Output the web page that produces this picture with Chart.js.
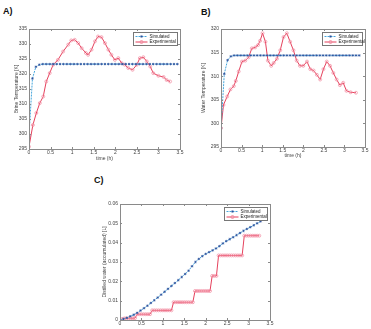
<!DOCTYPE html>
<html>
<head>
<meta charset="utf-8">
<script src="https://cdn.jsdelivr.net/npm/chart.js@4.4.1/dist/chart.umd.min.js"></script>
<style>
  body { margin:0; background:#fff; width:371px; height:329px; overflow:hidden; position:relative; font-family:"Liberation Sans", Arial, sans-serif; }
  canvas { position:absolute; }
  .lbl { position:absolute; font-weight:bold; font-size:9px; color:#111; }
</style>
</head>
<body>
<div class="lbl" style="left:3px;top:6px;">A)</div>
<div class="lbl" style="left:201px;top:7px;">B)</div>
<div class="lbl" style="left:94px;top:175px;">C)</div>
<canvas id="chartA" width="185" height="165" style="left:0;top:0;"></canvas>
<canvas id="chartB" width="186" height="165" style="left:185px;top:0;"></canvas>
<canvas id="chartC" width="200" height="164" style="left:90px;top:165px;"></canvas>
<script>
// ---------- DATA
var simTime = [0,0.08,0.16,0.24,0.32,0.4,0.48,0.56,0.64,0.72,0.8,0.88,0.96,1.04,1.12,1.2,1.28,1.36,1.44,1.52,1.6,1.68,1.76,1.84,1.92,2.0,2.08,2.16,2.24,2.32,2.4,2.48,2.56,2.64,2.72,2.8,2.88,2.96,3.04,3.12,3.2,3.28,3.36,3.44];

// A) brine temperature
var simA = [299.5,318.5,322.4,323.1,323.3,323.3,323.3,323.3,323.3,323.3,323.3,323.3,323.3,323.3,323.3,323.3,323.3,323.3,323.3,323.3,323.3,323.3,323.3,323.3,323.3,323.3,323.3,323.3,323.3,323.3,323.3,323.3,323.3,323.3,323.3,323.3,323.3,323.3,323.3,323.3,323.3,323.3,323.3,323.3];
var expATime = [0,0.09,0.17,0.25,0.33,0.4,0.48,0.56,0.67,0.79,0.91,0.98,1.06,1.14,1.22,1.32,1.37,1.45,1.53,1.6,1.68,1.76,1.84,1.91,1.99,2.07,2.15,2.22,2.3,2.4,2.5,2.57,2.65,2.73,2.81,2.88,3.0,3.12,3.19,3.27];
var expA = [295.8,303,307,310.3,312.5,317.5,320.3,323.1,324.7,327.5,329.8,331.2,331.4,330.3,328.6,327,326.4,328.1,330.9,332.5,332.3,330.3,328.1,326.4,324.7,325.3,323.6,323.1,322,321.4,323.1,325.3,325.6,324.2,322.5,320.3,319.4,319,318,317.5];

// B) water temperature
var simB = [299,310.5,313.4,314.2,314.4,314.4,314.4,314.4,314.4,314.4,314.4,314.4,314.4,314.4,314.4,314.4,314.4,314.4,314.4,314.4,314.4,314.4,314.4,314.4,314.4,314.4,314.4,314.4,314.4,314.4,314.4,314.4,314.4,314.4,314.4,314.4,314.4,314.4,314.4,314.4,314.4,314.4,314.4];
var expBTime = [0,0.06,0.15,0.23,0.31,0.36,0.43,0.51,0.59,0.67,0.75,0.83,0.9,0.95,1.01,1.08,1.14,1.22,1.28,1.36,1.44,1.52,1.6,1.68,1.76,1.84,1.92,2.0,2.09,2.17,2.25,2.33,2.41,2.49,2.57,2.65,2.73,2.81,2.89,2.97,3.05,3.15,3.28];
var expB = [299,303.9,305.7,307.2,307.9,309,311,313.1,313.3,314,315.9,316.1,316.6,317.5,319.1,317.3,313.3,312.2,312.8,313.7,315.5,318.3,319.1,317.3,315.5,313.3,312.2,312.2,313.1,311.5,311.2,310.3,309.3,311.5,313.1,312.2,310.7,309.3,308.1,308.6,306.9,306.6,306.5];

// C) distilled water
var simC = [0,0.0005,0.0011,0.0019,0.0027,0.0037,0.0049,0.0061,0.0074,0.0088,0.0102,0.0116,0.0131,0.0146,0.0161,0.0176,0.0191,0.0206,0.0222,0.0238,0.0255,0.0278,0.0300,0.0316,0.0330,0.0342,0.0351,0.0360,0.0370,0.0382,0.0396,0.0408,0.0418,0.0428,0.0439,0.0450,0.0461,0.0471,0.0480,0.0490,0.0500,0.0510];
var expCTime = [0,0.05,0.1,0.15,0.2,0.25,0.3,0.35,0.4,0.45,0.5,0.55,0.6,0.65,0.7,0.75,0.8,0.85,0.9,0.95,1.0,1.05,1.1,1.15,1.2,1.25,1.3,1.35,1.4,1.45,1.5,1.55,1.6,1.65,1.7,1.75,1.8,1.85,1.9,1.95,2.0,2.05,2.1,2.15,2.2,2.25,2.3,2.35,2.4,2.45,2.5,2.55,2.6,2.65,2.7,2.75,2.8,2.85,2.9,2.95,3.0,3.05,3.1,3.15,3.2,3.25];
var expC = [0,0.0005,0.0008,0.0009,0.0009,0.0009,0.0009,0.001,0.003,0.003,0.003,0.003,0.003,0.003,0.003,0.005,0.005,0.005,0.005,0.005,0.005,0.005,0.005,0.005,0.005,0.0092,0.0092,0.0092,0.0092,0.0092,0.0092,0.0092,0.0092,0.0092,0.0092,0.015,0.015,0.015,0.015,0.015,0.015,0.015,0.015,0.0228,0.0228,0.0228,0.0334,0.0334,0.0334,0.0334,0.0334,0.0334,0.0334,0.0334,0.0334,0.0334,0.0334,0.0334,0.0436,0.0436,0.0436,0.0436,0.0436,0.0436,0.0436,0.0436];

var xTicks = [0,0.5,1,1.5,2,2.5,3,3.5];

// ---------- STYLES
var SIM_LINE = '#45a6dc';
var SIM_MARK = '#2b4f9a';
var EXP_LINE = '#e5415c';
var EXP_MARK = '#f28ba0';
var AXIS = '#8a8a8a';
var TXT = '#444';

function pts(xs, ys){
  return ys.map(function(v, i){ return {x: xs[i], y: v}; });
}

// box round the plot + legend in top right corner (matlab style)
var boxPlugin = {
  id: 'boxLegend',
  afterDraw: function(chart){
    var ctx = chart.ctx, a = chart.chartArea;
    ctx.save();
    ctx.strokeStyle = AXIS;
    ctx.lineWidth = 1;
    ctx.strokeRect(Math.round(a.left)+0.5, Math.round(a.top)+0.5, Math.round(a.right-a.left), Math.round(a.bottom-a.top));

    // little inward ticks
    var xs = chart.scales.x, ys = chart.scales.y;
    ctx.beginPath();
    xs.ticks.forEach(function(t){
      var px = Math.round(xs.getPixelForValue(t.value))+0.5;
      ctx.moveTo(px, a.bottom); ctx.lineTo(px, a.bottom-2);
      ctx.moveTo(px, a.top); ctx.lineTo(px, a.top+2);
    });
    ys.ticks.forEach(function(t){
      var py = Math.round(ys.getPixelForValue(t.value))+0.5;
      ctx.moveTo(a.left, py); ctx.lineTo(a.left+2, py);
      ctx.moveTo(a.right, py); ctx.lineTo(a.right-2, py);
    });
    ctx.stroke();

    // legend
    var lw = chart.options.plugins.boxLegend.w, lh = 13;
    var lx = Math.round(a.right - lw - 3)+0.5, ly = Math.round(a.top + 3)+0.5;
    ctx.fillStyle = '#fff';
    ctx.fillRect(lx, ly, lw, lh);
    ctx.strokeStyle = '#777';
    ctx.strokeRect(lx, ly, lw, lh);
    ctx.font = '4.5px "Liberation Sans", Arial, sans-serif';
    ctx.textBaseline = 'middle';
    ctx.fillStyle = '#222';
    // simulated
    ctx.strokeStyle = SIM_LINE; ctx.setLineDash([2,1]);
    ctx.beginPath(); ctx.moveTo(lx+2, ly+4); ctx.lineTo(lx+14, ly+4); ctx.stroke();
    ctx.setLineDash([]);
    ctx.fillStyle = SIM_MARK; ctx.fillRect(lx+7, ly+3, 2, 2);
    ctx.fillStyle = '#222'; ctx.fillText('Simulated', lx+16, ly+4);
    // experimental
    ctx.strokeStyle = EXP_LINE;
    ctx.beginPath(); ctx.moveTo(lx+2, ly+9.5); ctx.lineTo(lx+14, ly+9.5); ctx.stroke();
    ctx.strokeStyle = EXP_MARK;
    ctx.beginPath(); ctx.arc(lx+8, ly+9.5, 1.5, 0, Math.PI*2); ctx.stroke();
    ctx.fillStyle = '#222'; ctx.fillText('Experimental', lx+16, ly+9.5);
    ctx.restore();
  }
};

function makeChart(id, cfg){
  var ctx = document.getElementById(id).getContext('2d');
  return new Chart(ctx, {
    type: 'line',
    data: {
      datasets: [{
        label: 'Simulated',
        data: cfg.sim,
        borderColor: SIM_LINE,
        borderWidth: 1,
        borderDash: [2,1],
        pointStyle: 'star',
        pointRadius: 1.3,
        pointBorderColor: SIM_MARK,
        pointBackgroundColor: SIM_MARK,
        pointBorderWidth: 0.6,
        tension: 0
      }, {
        label: 'Experimental',
        data: cfg.exp,
        borderColor: EXP_LINE,
        borderWidth: 1,
        pointStyle: 'circle',
        pointRadius: 1.5,
        pointBorderColor: EXP_MARK,
        pointBackgroundColor: 'rgba(0,0,0,0)',
        pointBorderWidth: 0.7,
        tension: 0
      }]
    },
    plugins: [boxPlugin],
    options: {
      responsive: false,
      animation: false,
      layout: { padding: cfg.pad },
      plugins: {
        legend: { display: false },
        tooltip: { enabled: false },
        boxLegend: { w: cfg.legW }
      },
      scales: {
        x: {
          type: 'linear', min: 0, max: 3.5,
          afterBuildTicks: function(s){ s.ticks = xTicks.map(function(v){ return {value: v}; }); },
          afterFit: function(s){ s.height = cfg.xh; },
          grid: { display: false, drawTicks: false, tickLength: 0 },
          border: { display: false },
          ticks: { font: { size: 5 }, color: TXT, padding: 1, maxRotation: 0,
                    callback: function(v){ return String(v); } },
          title: { display: !!cfg.xTitle, text: cfg.xTitle, font: { size: 5 }, color: TXT, padding: 0 }
        },
        y: {
          type: 'linear', min: cfg.ymin, max: cfg.ymax,
          afterFit: function(s){ s.width = cfg.yw; },
          grid: { display: false, drawTicks: false, tickLength: 0 },
          border: { display: false },
          ticks: { stepSize: cfg.ystep, font: { size: 5 }, color: TXT, padding: 2,
                    callback: function(v){ return String(Math.round(v*1000)/1000); } },
          title: { display: true, text: cfg.yTitle, font: { size: 5 }, color: TXT, padding: { top: cfg.yTitlePad, bottom: 0 } }
        }
      }
    }
  });
}

makeChart('chartA', {
  sim: pts(simTime, simA), exp: pts(expATime, expA),
  ymin: 295, ymax: 335, ystep: 5,
  yTitle: 'Brine Temperature [K]', xTitle: 'time (h)', yTitlePad: 14,
  pad: { top: 29, right: 5, left: 0, bottom: 3 }, yw: 29, xh: 13, legW: 44
});
makeChart('chartB', {
  sim: pts(simTime, simB), exp: pts(expBTime, expB),
  ymin: 295, ymax: 320, ystep: 5,
  yTitle: 'Water Temperature [K]', xTitle: 'time (h)', yTitlePad: 16,
  pad: { top: 29, right: 6, left: 0, bottom: 6 }, yw: 36, xh: 12, legW: 40
});
makeChart('chartC', {
  sim: pts(simTime, simC), exp: pts(expCTime, expC),
  ymin: 0, ymax: 0.06, ystep: 0.01,
  yTitle: 'Distilled water (accumulated) [L]', xTitle: '', yTitlePad: 12,
  pad: { top: 39, right: 20, left: 0, bottom: 0 }, yw: 30, xh: 9, legW: 43
});
</script>
</body>
</html>
